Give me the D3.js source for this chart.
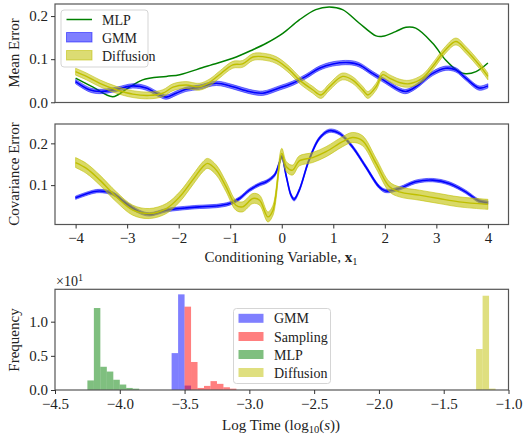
<!DOCTYPE html>
<html><head><meta charset="utf-8">
<script src="https://cdn.jsdelivr.net/npm/d3@7"></script>
<style>
body{margin:0;background:#fff;}
text{font-family:"Liberation Serif","DejaVu Serif",serif;fill:#222;}
</style></head>
<body><svg id="c" width="526" height="441"></svg>
<script>
// ---------- DATA ----------
// Top panel: mean error vs conditioning variable [x, value]
const mlpMean = [[-4,0.056],[-3.66,0.035],[-3.28,0.013],[-3.02,0.030],[-2.70,0.052],[-2.24,0.060],[-1.98,0.064],[-1.47,0.083],[-0.95,0.102],[-0.56,0.122],[-0.30,0.137],[0.02,0.160],[0.34,0.191],[0.66,0.215],[0.92,0.221],[1.18,0.215],[1.50,0.184],[1.83,0.154],[1.96,0.153],[2.21,0.164],[2.41,0.174],[2.60,0.172],[2.93,0.137],[3.18,0.098],[3.44,0.071],[3.57,0.066],[3.77,0.071],[4,0.091]];
const gmmMean = [[-4,0.048],[-3.73,0.029],[-3.53,0.025],[-3.21,0.030],[-2.89,0.038],[-2.63,0.033],[-2.37,0.017],[-2.24,0.012],[-2.05,0.021],[-1.86,0.030],[-1.60,0.035],[-1.27,0.044],[-0.95,0.036],[-0.63,0.025],[-0.37,0.021],[-0.05,0.033],[0.21,0.044],[0.47,0.060],[0.73,0.079],[0.99,0.089],[1.31,0.092],[1.50,0.087],[1.76,0.067],[2.02,0.048],[2.28,0.029],[2.41,0.025],[2.60,0.036],[2.93,0.067],[3.18,0.079],[3.38,0.075],[3.57,0.056],[3.83,0.033],[4,0.038]];
const diffMean = [[-4,0.071],[-3.79,0.060],[-3.53,0.044],[-3.21,0.029],[-2.89,0.019],[-2.57,0.016],[-2.31,0.021],[-2.11,0.035],[-1.86,0.040],[-1.60,0.036],[-1.40,0.046],[-1.21,0.064],[-0.95,0.087],[-0.76,0.089],[-0.56,0.105],[-0.37,0.106],[-0.11,0.098],[0.15,0.075],[0.34,0.052],[0.60,0.029],[0.76,0.017],[0.92,0.035],[1.18,0.060],[1.37,0.052],[1.57,0.029],[1.67,0.017],[1.83,0.036],[1.96,0.064],[2.09,0.056],[2.28,0.046],[2.47,0.043],[2.73,0.056],[2.93,0.083],[3.18,0.122],[3.38,0.141],[3.57,0.122],[3.83,0.087],[4,0.060]];
const gmmMeanStd = 0.005;
const diffMeanStd = 0.008;

// Middle panel: covariance error
const gmmCov = [[-4,0.070],[-3.66,0.084],[-3.53,0.086],[-3.28,0.080],[-3.02,0.056],[-2.76,0.036],[-2.57,0.030],[-2.24,0.040],[-1.98,0.044],[-1.60,0.048],[-1.27,0.050],[-1.01,0.056],[-0.82,0.068],[-0.63,0.088],[-0.43,0.102],[-0.30,0.108],[-0.14,0.124],[-0.05,0.152],[0,0.168],[0.09,0.120],[0.18,0.076],[0.24,0.066],[0.34,0.088],[0.53,0.160],[0.73,0.212],[0.92,0.230],[1.12,0.224],[1.37,0.192],[1.63,0.144],[1.89,0.096],[2.02,0.086],[2.28,0.092],[2.60,0.108],[2.93,0.112],[3.25,0.104],[3.57,0.084],[3.83,0.062],[4,0.058]];
const diffCov = [[-4,0.154],[-3.79,0.140],[-3.53,0.112],[-3.21,0.072],[-2.89,0.040],[-2.57,0.032],[-2.24,0.044],[-1.98,0.072],[-1.73,0.112],[-1.53,0.144],[-1.44,0.152],[-1.27,0.136],[-1.08,0.096],[-0.89,0.052],[-0.76,0.048],[-0.56,0.068],[-0.43,0.064],[-0.27,0.024],[-0.17,0.040],[0,0.176],[0.09,0.144],[0.21,0.136],[0.34,0.158],[0.60,0.166],[0.86,0.180],[1.18,0.204],[1.37,0.214],[1.57,0.206],[1.83,0.152],[2.09,0.096],[2.28,0.084],[2.67,0.076],[3.05,0.068],[3.44,0.060],[4,0.054]];
const gmmCovStd = 0.004;
const diffCovStd = 0.012;

// Bottom panel: histogram of log10 time, bins of width 0.05, heights (x10^1)
const binWidth = 0.05;
const gmmBinStarts = [-3.6,-3.55,-3.5];
const gmmFreq = [0.54,1.40,0.065];
const samplingBinStarts = [-3.5,-3.45,-3.4,-3.35,-3.3,-3.25,-3.2,-3.15];
const samplingFreq = [1.22,0.41,0.03,0.06,0.13,0.09,0.04,0.02];
const mlpBinStarts = [-4.25,-4.2,-4.15,-4.1,-4.05,-4.0,-3.95,-3.9];
const mlpFreq = [0.14,1.20,0.34,0.27,0.15,0.08,0.03,0.02];
const diffBinStarts = [-1.25,-1.2,-1.15];
const diffFreq = [0.60,1.38,0.02];

const meanTicks = [0.0,0.1,0.2];
const covTicks = [0.1,0.2];
const condTicks = [-4,-3,-2,-1,0,1,2,3,4];
const freqTicks = [0.0,0.5,1.0];
const timeTicks = [-4.5,-4.0,-3.5,-3.0,-2.5,-2.0,-1.5,-1.0];

// ---------- DRAW ----------
const svg = d3.select("#c");
const L = 55, R = 508.5;
const FONT = '"Liberation Serif","DejaVu Serif",serif';
const cGreen = "#008000", cBlue = "#0000ff", cYel = "#bfbf00", cRed = "#ff0000";
const minus = s => s.replace("-", "\u2212");

const x = d3.scaleLinear().domain([-4.4, 4.4]).range([L, R]);
const yTop = d3.scaleLinear().domain([-0.0005, 0.228]).range([102.5, 4]);
const yMid = d3.scaleLinear().domain([0.0058, 0.2463]).range([224.5, 124]);
const xH = d3.scaleLinear().domain([-4.5, -1.0]).range([L, R]);
const yH = d3.scaleLinear().domain([0, 1.474]).range([390, 289.3]);

function clip(id, y0, y1){
  svg.append("clipPath").attr("id", id).append("rect")
    .attr("x", L).attr("y", y0).attr("width", R - L).attr("height", y1 - y0);
}
clip("cpTop", yTop.range()[1], yTop.range()[0]);
clip("cpMid", yMid.range()[1], yMid.range()[0]);

function band(g, data, std, ys, color, op){
  const area = d3.area().curve(d3.curveCatmullRom.alpha(0.5))
    .x(d => x(d[0])).y0(d => ys(d[1] - std)).y1(d => ys(d[1] + std));
  g.append("path").attr("d", area(data)).attr("fill", color).attr("fill-opacity", op)
    .attr("stroke", color).attr("stroke-opacity", op).attr("stroke-width", 1);
}
function line(g, data, ys, color, w){
  const ln = d3.line().curve(d3.curveCatmullRom.alpha(0.5)).x(d => x(d[0])).y(d => ys(d[1]));
  g.append("path").attr("d", ln(data)).attr("fill", "none").attr("stroke", color)
    .attr("stroke-width", w).attr("stroke-linejoin", "round");
}
function frame(y0, y1){
  svg.append("rect").attr("x", L).attr("y", y0).attr("width", R - L).attr("height", y1 - y0)
    .attr("fill", "none").attr("stroke", "#555").attr("stroke-width", 1.2);
}
function styleAxis(g){
  g.attr("font-family", FONT).attr("font-size", 15);
  g.select(".domain").remove();
  g.selectAll("line").attr("stroke", "#333").attr("stroke-width", 1);
  g.selectAll("text").attr("font-size", 15).attr("fill", "#222").attr("font-family", FONT);
}
function yAxis(ys, ticks, fmt){
  const g = svg.append("g").attr("transform", `translate(${L},0)`)
    .call(d3.axisLeft(ys).tickValues(ticks).tickFormat(fmt).tickSize(4).tickPadding(3));
  styleAxis(g);
}
function xAxis(xs, yPos, ticks, fmt){
  const g = svg.append("g").attr("transform", `translate(0,${yPos})`)
    .call(d3.axisBottom(xs).tickValues(ticks).tickFormat(fmt).tickSize(4).tickPadding(4));
  styleAxis(g);
}
function yLabel(txt, cy){
  svg.append("text").attr("transform", `translate(19,${cy}) rotate(-90)`)
    .attr("text-anchor", "middle").attr("font-size", 15).text(txt);
}
function legendBox(x0, y0, w, h){
  svg.append("rect").attr("x", x0).attr("y", y0).attr("width", w).attr("height", h)
    .attr("rx", 3).attr("fill", "#fff").attr("fill-opacity", 0.85)
    .attr("stroke", "#d5d5d5").attr("stroke-width", 1);
}

// ---- Top panel ----
const gTop = svg.append("g").attr("clip-path", "url(#cpTop)");
line(gTop, mlpMean, yTop, cGreen, 1.5);
band(gTop, gmmMean, gmmMeanStd, yTop, cBlue, 0.5);
line(gTop, gmmMean, yTop, cBlue, 1.6);
band(gTop, diffMean, diffMeanStd, yTop, cYel, 0.55);
line(gTop, diffMean, yTop, cYel, 1.4);
frame(4, 102.5);
yAxis(yTop, meanTicks, d3.format(".1f"));
yLabel("Mean Error", 53);

// legend top
legendBox(61, 10, 87, 57);
svg.append("line").attr("x1", 66.5).attr("x2", 92).attr("y1", 19.5).attr("y2", 19.5)
  .attr("stroke", cGreen).attr("stroke-width", 1.5);
svg.append("rect").attr("x", 66.5).attr("y", 32.5).attr("width", 25.5).attr("height", 9.5)
  .attr("fill", cBlue).attr("fill-opacity", 0.5).attr("stroke", cBlue).attr("stroke-opacity", 0.5);
svg.append("rect").attr("x", 66.5).attr("y", 50.5).attr("width", 25.5).attr("height", 9.5)
  .attr("fill", cYel).attr("fill-opacity", 0.55).attr("stroke", cYel).attr("stroke-opacity", 0.55);
[["MLP",24.5],["GMM",42.5],["Diffusion",60.5]].forEach(([t,yy]) =>
  svg.append("text").attr("x", 102).attr("y", yy).attr("font-size", 14).text(t));

// ---- Middle panel ----
const gMid = svg.append("g").attr("clip-path", "url(#cpMid)");
band(gMid, gmmCov, gmmCovStd, yMid, cBlue, 0.5);
line(gMid, gmmCov, yMid, cBlue, 1.6);
band(gMid, diffCov, diffCovStd, yMid, cYel, 0.6);
line(gMid, diffCov, yMid, cYel, 1.4);
frame(124, 224.5);
yAxis(yMid, covTicks, d3.format(".1f"));
xAxis(x, 224.5, condTicks, d => minus(String(d)));
yLabel("Covariance Error", 174);
const xl = svg.append("text").attr("x", 281).attr("y", 262).attr("text-anchor", "middle").attr("font-size", 15);
xl.append("tspan").text("Conditioning Variable, ");
xl.append("tspan").attr("font-weight", "bold").text("x");
xl.append("tspan").attr("font-size", 10.5).attr("dy", 3).text("1");

// ---- Bottom panel (histograms) ----
function hist(starts, vals, color){
  svg.append("g").selectAll("rect").data(starts.map((s,i) => [s, vals[i]])).join("rect")
    .attr("x", d => xH(d[0])).attr("width", d => xH(d[0] + binWidth) - xH(d[0]))
    .attr("y", d => yH(d[1])).attr("height", d => yH(0) - yH(d[1]))
    .attr("fill", color).attr("fill-opacity", 0.5);
}
hist(gmmBinStarts, gmmFreq, cBlue);
hist(samplingBinStarts, samplingFreq, cRed);
hist(mlpBinStarts, mlpFreq, cGreen);
hist(diffBinStarts, diffFreq, cYel);
frame(289.3, 390);
yAxis(yH, freqTicks, d3.format(".1f"));
xAxis(xH, 390, timeTicks, d => minus(d3.format(".1f")(d)));
yLabel("Frequency", 340);
const off = svg.append("text").attr("x", 56).attr("y", 286).attr("font-size", 14);
off.append("tspan").text("\u00d710");
off.append("tspan").attr("font-size", 10).attr("dy", -5).text("1");
const tl = svg.append("text").attr("x", 281).attr("y", 430).attr("text-anchor", "middle").attr("font-size", 15);
tl.append("tspan").text("Log Time (log");
tl.append("tspan").attr("font-size", 10.5).attr("dy", 3).text("10");
tl.append("tspan").attr("dy", -3).text("(");
tl.append("tspan").attr("font-style", "italic").text("s");
tl.append("tspan").text("))");

// legend bottom
legendBox(233.5, 308.5, 97, 75);
[["GMM",cBlue,318.3],["Sampling",cRed,336.5],["MLP",cGreen,354.5],["Diffusion",cYel,372.5]].forEach(([t,c,yy]) => {
  svg.append("rect").attr("x", 238.5).attr("y", yy - 4.5).attr("width", 25).attr("height", 9)
    .attr("fill", c).attr("fill-opacity", 0.5);
  svg.append("text").attr("x", 274).attr("y", yy + 5).attr("font-size", 14).text(t);
});
</script></body></html>
